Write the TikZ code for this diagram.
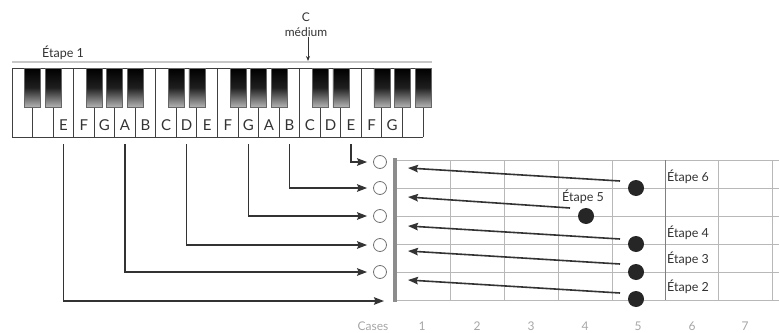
\documentclass[tikz,border=0pt]{standalone}
\usepackage{fontspec}
\setmainfont{Lato}
\usetikzlibrary{arrows.meta,calc}
\begin{document}
\begin{tikzpicture}[x=1pt,y=-1pt,
  conn/.style={draw=black!80,line width=1.6pt,-{Stealth[length=10pt,width=7.5pt,inset=1.5pt]}},
  opencirc/.style={circle,draw=black!55,line width=0.8pt,minimum size=13pt,inner sep=0pt},
  fdot/.style={circle,fill=black!85,minimum size=16pt,inner sep=0pt},
  gridln/.style={draw=black!28,line width=0.9pt},
  keyline/.style={draw=black!75,line width=1pt},
  blackkey/.style={draw=black!60,line width=0.6pt,top color=black,bottom color=black!30,middle color=black!88},
  keylbl/.style={font=\fontsize{15}{15}\selectfont,text=black!80,inner sep=0pt},
  steplbl/.style={font=\fontsize{12.5}{12.5}\selectfont,text=black!80,anchor=west,inner sep=0pt},
  toplbl/.style={font=\fontsize{12}{12}\selectfont,text=black!80,inner sep=0pt},
  caselbl/.style={font=\fontsize{12}{12}\selectfont,text=black!35,inner sep=0pt}]
\useasboundingbox (0,0) rectangle (779,332);
\def\kw{20.55}
% faint line above keyboard
\draw[black!22,line width=1.5pt] (12,62) -- (432,62);
% keyboard frame and white keys
\draw[keyline] (432,68) -- (12,68) -- (12,137) -- (423,137);
\foreach \i in {1,...,20} \draw[keyline] ({12+\i*\kw},68) -- ({12+\i*\kw},137);
% black keys
\foreach \b in {1,2,4,5,6,8,9,11,12,13,15,16,18,19,20}
  \shade[blackkey] ({12+\b*\kw-8},68) rectangle ({12+\b*\kw+8},107);
% key letters
\foreach \n [count=\i from 2] in {E,F,G,A,B,C,D,E,F,G,A,B,C,D,E,F,G}
  \node[keylbl] (L\i) at ({12+(\i+0.5)*\kw},125) {\n};
% top labels
\node[steplbl] (e1) at (42,53) {Étape 1};
\node[toplbl] (cm) at (306,17) {C};
\node[toplbl] (med) at (306,32) {médium};
\coordinate (cmtip) at (308,61);
\draw[draw=black!80,line width=0.9pt,-{Stealth[length=5pt,width=4pt]}] (med.south -| cmtip) -- (cmtip);
% open string circles
\node[opencirc] (o6) at (380,162) {};
\node[opencirc] (o5) at (380,188) {};
\node[opencirc] (o4) at (380,216) {};
\node[opencirc] (o3) at (380,245) {};
\node[opencirc] (o2) at (380,272) {};
\coordinate (s1) at (384,301);
% key connector starts
\foreach \i in {2,5,8,11,13,16} \coordinate (k\i) at ({12+(\i+0.5)*\kw},144);
\draw[conn,shorten >=6pt] (k16) |- (o6);
\draw[conn,shorten >=6pt] (k13) |- (o5);
\draw[conn,shorten >=6pt] (k11) |- (o4);
\draw[conn,shorten >=6pt] (k8) |- (o3);
\draw[conn,shorten >=6pt] (k5) |- (o2);
\draw[conn] (k2) |- (s1);
% fingerboard
\foreach \y in {160,188,216,244,272,300} \draw[gridln] (395,\y) -- (779,\y);
\foreach \x in {450,504,558,612,718,772} \draw[gridln] (\x,160) -- (\x,300);
\draw[draw=black!50,line width=1pt] (665,160) -- (665,300);
\draw[draw=black!45,line width=4pt] (395,158) -- (395,302);
% dots
\node[fdot] (d6) at (636,188) {};
\node[fdot] (d5) at (586,216) {};
\node[fdot] (d4) at (636,244) {};
\node[fdot] (d3) at (636,272) {};
\node[fdot] (d2) at (636,299) {};
\coordinate (t6) at (408,168);
\coordinate (t5) at (408,197);
\coordinate (t4) at (408,226);
\coordinate (t3) at (408,251);
\coordinate (t2) at (408,280);
\draw[conn] ($(d6)+(-16,-7)$) -- (t6);
\draw[conn] ($(d5)+(-16,-8)$) -- (t5);
\draw[conn] ($(d4)+(-16,-5)$) -- (t4);
\draw[conn] ($(d3)+(-16,-8)$) -- (t3);
\draw[conn] ($(d2)+(-16,-6)$) -- (t2);
% step labels
\node[steplbl] (e6) at (667,177) {Étape 6};
\node[steplbl] (e5) at (562,197) {Étape 5};
\node[steplbl] (e4) at (667,233) {Étape 4};
\node[steplbl] (e3) at (667,259) {Étape 3};
\node[steplbl] (e2) at (667,287) {Étape 2};
% cases
\node[caselbl] (cs) at (373,326) {Cases};
\foreach \n/\x in {1/422,2/477,3/531,4/585,5/638,6/692,7/745}
  \node[caselbl] (c\n) at (\x,326) {\n};
\end{tikzpicture}
\end{document}
